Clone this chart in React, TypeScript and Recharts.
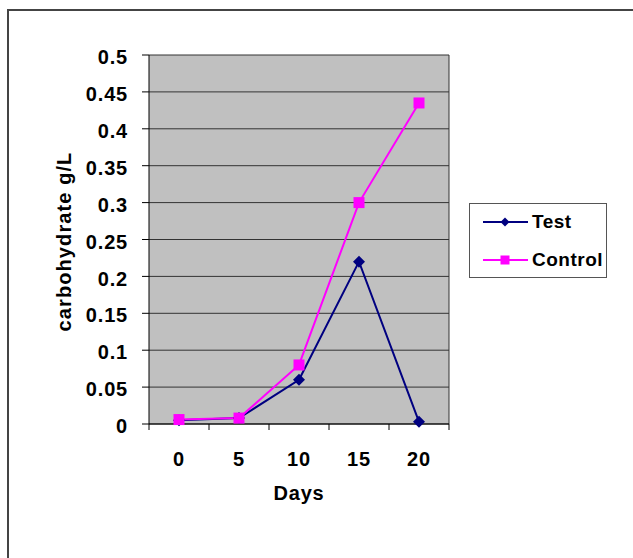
import React from 'react';
import {
    LineChart, Line, XAxis, YAxis, CartesianGrid, Legend, Label
} from 'recharts';

const days = ['0', '5', '10', '15', '20'];
const testValues = [0.005, 0.008, 0.06, 0.22, 0.003];
const controlValues = [0.006, 0.008, 0.08, 0.3, 0.435];
const yTicks = [0, 0.05, 0.1, 0.15, 0.2, 0.25, 0.3, 0.35, 0.4, 0.45, 0.5];

const data = days.map((d, i) => ({ day: d, Test: testValues[i], Control: controlValues[i] }));

const FONT = '"Liberation Sans", Arial, sans-serif';
const NAVY = '#000080';
const MAGENTA = '#FF00FF';

// diamond marker for Test (half size in "half", recharts overwrites r)
const Diamond = (props: any) => {
    const { cx, cy, half = 6 } = props;
    if (cx == null || cy == null) return null;
    return <path d={`M${cx},${cy - half}L${cx + half},${cy}L${cx},${cy + half}L${cx - half},${cy}Z`} fill={NAVY} />;
};

// square marker for Control
const Square = (props: any) => {
    const { cx, cy, half = 5.5 } = props;
    if (cx == null || cy == null) return null;
    return <rect x={cx - half} y={cy - half} width={half * 2} height={half * 2} fill={MAGENTA} />;
};

// category ticks, with Excel style tick marks between categories
const DayTick = (props: any) => {
    const { x, y, payload, index, visibleTicksCount } = props;
    const gap = 30;
    return (
        <g>
            <line x1={x - gap} y1={y} x2={x - gap} y2={y + 6} stroke="#000" />
            {index === visibleTicksCount - 1 && (
                <line x1={x + gap} y1={y} x2={x + gap} y2={y + 6} stroke="#000" />
            )}
            <text x={x} y={y + 42} textAnchor="middle" fontFamily={FONT} fontWeight="bold" fontSize={20}
                letterSpacing={0.8} fill="#000">
                {payload.value}
            </text>
        </g>
    );
};

const legendItems = [
    { name: 'Test', color: NAVY, Mark: Diamond },
    { name: 'Control', color: MAGENTA, Mark: Square },
];

const LegendBox = () => (
    <div style={{
        width: 136, height: 73, border: '1px solid #555', background: '#fff',
        fontFamily: FONT, fontWeight: 'bold', fontSize: 19, color: '#000', letterSpacing: 0.5
    }}>
        {legendItems.map((it, i) => (
            <div key={it.name} style={{ display: 'flex', alignItems: 'center', height: 20, marginTop: i === 0 ? 8 : 18, marginLeft: 13 }}>
                <svg width={46} height={20}>
                    <line x1={0} y1={10} x2={45} y2={10} stroke={it.color} strokeWidth={2} />
                    <it.Mark cx={22} cy={10} half={4.5} />
                </svg>
                <span style={{ marginLeft: 3 }}>{it.name}</span>
            </div>
        ))}
    </div>
);

export default function App() {
    return (
        <div style={{ position: 'absolute', left: 0, top: 0, width: 633, height: 558, overflow: 'hidden', background: '#fff' }}>
            <div style={{
                position: 'absolute', left: 7, top: 9, width: 640, height: 560,
                borderLeft: '2px solid #444', borderTop: '2px solid #444'
            }} />
            <div style={{ position: 'absolute', left: 0, top: 0 }}>
                <LineChart width={633} height={558} data={data} margin={{ top: 55, right: 184, bottom: 0, left: 0 }}>
                    <CartesianGrid
                        fill="#C0C0C0"
                        stroke="#333"
                        horizontal
                        vertical
                        verticalCoordinatesGenerator={({ offset }: any) => [offset.left + offset.width]}
                        strokeOpacity={1}
                    />
                    <XAxis
                        dataKey="day"
                        height={134}
                        padding={{ left: 30, right: 30 }}
                        axisLine={{ stroke: '#000' }}
                        tickLine={false}
                        tickSize={0}
                        tickMargin={0}
                        interval={0}
                        tick={<DayTick />}
                    >
                        <Label
                            content={({ viewBox }: any) => (
                                <text x={viewBox.x + viewBox.width / 2} y={500} textAnchor="middle"
                                    fontFamily={FONT} fontWeight="bold" fontSize={20} letterSpacing={0.8} fill="#000">Days</text>
                            )}
                        />
                    </XAxis>
                    <YAxis
                        width={149}
                        domain={[0, 0.5]}
                        ticks={yTicks}
                        interval={0}
                        axisLine={{ stroke: '#000' }}
                        tickLine={{ stroke: '#000' }}
                        tickSize={7}
                        tickMargin={14}
                        tick={{ fontFamily: FONT, fontWeight: 'bold', fontSize: 20, fill: '#000', letterSpacing: 0.8, dy: 2 }}
                    >
                        <Label
                            content={({ viewBox }: any) => {
                                const cy = viewBox.y + viewBox.height / 2 + 2;
                                return (
                                    <text x={71} y={cy} textAnchor="middle" transform={`rotate(-90 71 ${cy})`}
                                        fontFamily={FONT} fontWeight="bold" fontSize={20} letterSpacing={1.1} fill="#000">
                                        carbohydrate g/L
                                    </text>
                                );
                            }}
                        />
                    </YAxis>
                    <Legend
                        layout="vertical"
                        align="center"
                        verticalAlign="middle"
                        wrapperStyle={{ left: 469, top: 203, width: 138 }}
                        content={<LegendBox />}
                    />
                    <Line dataKey="Test" stroke={NAVY} strokeWidth={2} dot={<Diamond />} activeDot={false} isAnimationActive={false} />
                    <Line dataKey="Control" stroke={MAGENTA} strokeWidth={2} dot={<Square />} activeDot={false} isAnimationActive={false} />
                </LineChart>
            </div>
        </div>
    );
}
